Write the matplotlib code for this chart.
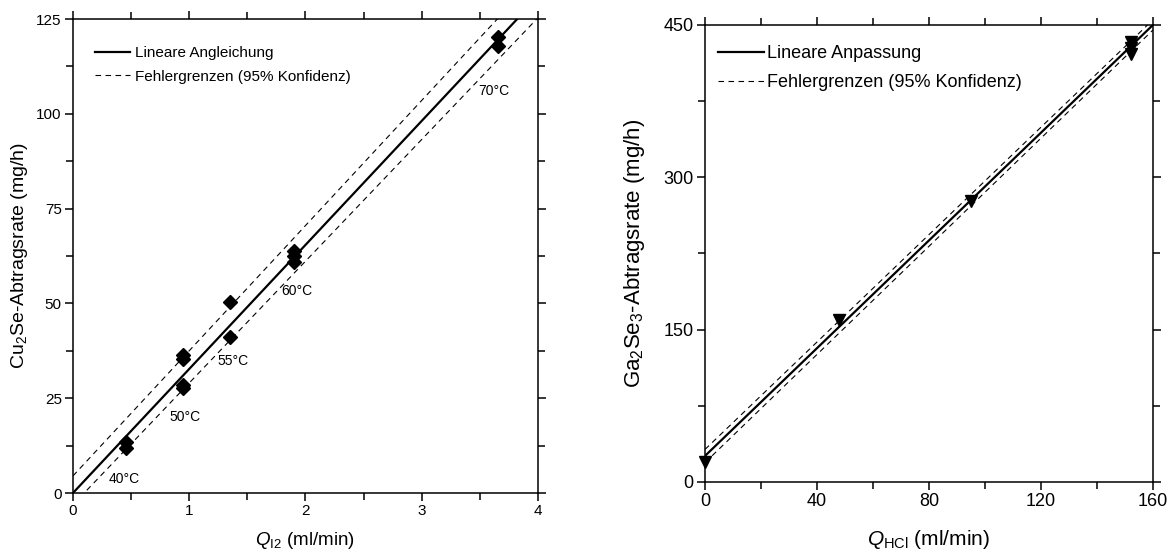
import numpy as np
import matplotlib
matplotlib.use("Agg")
import matplotlib.pyplot as plt
from matplotlib.ticker import MultipleLocator

plt.rcParams["font.family"] = ["Liberation Sans", "DejaVu Sans"]
plt.rcParams["mathtext.fontset"] = "custom"
plt.rcParams["mathtext.rm"] = "Liberation Sans"
plt.rcParams["mathtext.it"] = "Liberation Sans:italic"

# Cu2Se removal rate vs. iodine flow
cu_q = [0.46, 0.46, 0.95, 0.95, 0.95, 0.95, 1.35, 1.35, 1.90, 1.90, 1.90, 3.66, 3.66]
cu_rate = [13.5, 11.9, 36.3, 35.3, 28.5, 27.7, 50.3, 41.2, 63.8, 62.4, 60.9, 120.3, 117.9]
cu_fit = (32.7, 0.0)          # slope, intercept
cu_upper = (33.0, 4.5)
cu_lower = (32.1, -3.1)
temp_labels = ["40°C", "50°C", "55°C", "60°C", "70°C"]
temp_x = [0.44, 0.96, 1.38, 1.93, 3.62]
temp_y = [3.7, 20.0, 34.8, 53.2, 106.0]

# Ga2Se3 removal rate vs. HCl flow
ga_q = [0, 48, 95, 152, 152, 152]
ga_rate = [20, 159, 277, 433, 427, 421]
ga_fit = (2.6525, 25.6)
ga_upper = (2.644, 32.0)
ga_lower = (2.6625, 19.0)

fig = plt.figure(figsize=(11.71, 5.54), dpi=100)
ax1 = fig.add_axes([0.0623, 0.1101, 0.397, 0.8556])
ax2 = fig.add_axes([0.602, 0.130, 0.3826, 0.825])


def style_axes(ax, fs):
    for sp in ax.spines.values():
        sp.set_linewidth(1.1)
    ax.tick_params(which="both", direction="out", top=True, right=True,
                   width=1.1, labelsize=fs, pad=2)
    ax.tick_params(which="major", length=6)
    ax.tick_params(which="minor", length=5)


def line(ax, x, params, **kw):
    x = np.asarray(x, dtype=float)
    return ax.plot(x, params[0] * x + params[1], **kw)[0]


# left panel
xx = np.array([0.0, 4.0])
l1 = line(ax1, xx, cu_fit, color="black", lw=1.6, label="Lineare Angleichung")
l2 = line(ax1, xx, cu_upper, color="black", lw=0.8, dashes=(5, 4),
          label="Fehlergrenzen (95% Konfidenz)")
line(ax1, xx, cu_lower, color="black", lw=0.8, dashes=(5, 4))
ax1.plot(cu_q, cu_rate, "D", color="black", ms=7, zorder=3)
for t, x, y in zip(temp_labels, temp_x, temp_y):
    ax1.text(x, y, t, fontsize=10, ha="center", va="center")

ax1.set_xlim(0, 4)
ax1.set_ylim(0, 125)
ax1.xaxis.set_major_locator(MultipleLocator(1))
ax1.xaxis.set_minor_locator(MultipleLocator(0.5))
ax1.yaxis.set_major_locator(MultipleLocator(25))
ax1.yaxis.set_minor_locator(MultipleLocator(12.5))
style_axes(ax1, 11)
ax1.set_xlabel(r"$Q_{\mathregular{I2}}$ (ml/min)", fontsize=13.5)
ax1.set_ylabel(r"Cu$_{\mathregular{2}}$Se-Abtragsrate (mg/h)", fontsize=14)
ax1.xaxis.set_label_coords(0.5, -0.078)
ax1.yaxis.set_label_coords(-0.092, 0.5)
ax1.legend(handles=[l1, l2], loc="upper left", bbox_to_anchor=(0.0475, 0.942),
           frameon=False, fontsize=11, handlelength=2.3, handletextpad=0.3,
           labelspacing=0.6, borderpad=0, borderaxespad=0)

# right panel
xx = np.array([0.0, 160.0])
r1 = line(ax2, xx, ga_fit, color="black", lw=1.6, label="Lineare Anpassung")
r2 = line(ax2, xx, ga_upper, color="black", lw=0.8, dashes=(5, 4),
          label="Fehlergrenzen (95% Konfidenz)")
line(ax2, xx, ga_lower, color="black", lw=0.8, dashes=(5, 4))
ax2.plot(ga_q, ga_rate, "v", color="black", ms=9, zorder=3, clip_on=False)

ax2.set_xlim(0, 160)
ax2.set_ylim(0, 450)
ax2.xaxis.set_major_locator(MultipleLocator(40))
ax2.xaxis.set_minor_locator(MultipleLocator(20))
ax2.yaxis.set_major_locator(MultipleLocator(150))
ax2.yaxis.set_minor_locator(MultipleLocator(75))
style_axes(ax2, 13)
ax2.set_xlabel(r"$Q_{\mathregular{HCl}}$ (ml/min)", fontsize=15)
ax2.set_ylabel(r"Ga$_{\mathregular{2}}$Se$_{\mathregular{3}}$-Abtragsrate (mg/h)", fontsize=16)
ax2.xaxis.set_label_coords(0.5, -0.1)
ax2.yaxis.set_label_coords(-0.13, 0.5)
ax2.legend(handles=[r1, r2], loc="upper left", bbox_to_anchor=(0.029, 0.955),
           frameon=False, fontsize=13, handlelength=2.55, handletextpad=0.15,
           labelspacing=0.65, borderpad=0, borderaxespad=0)

fig.savefig("out.png", dpi=100)
